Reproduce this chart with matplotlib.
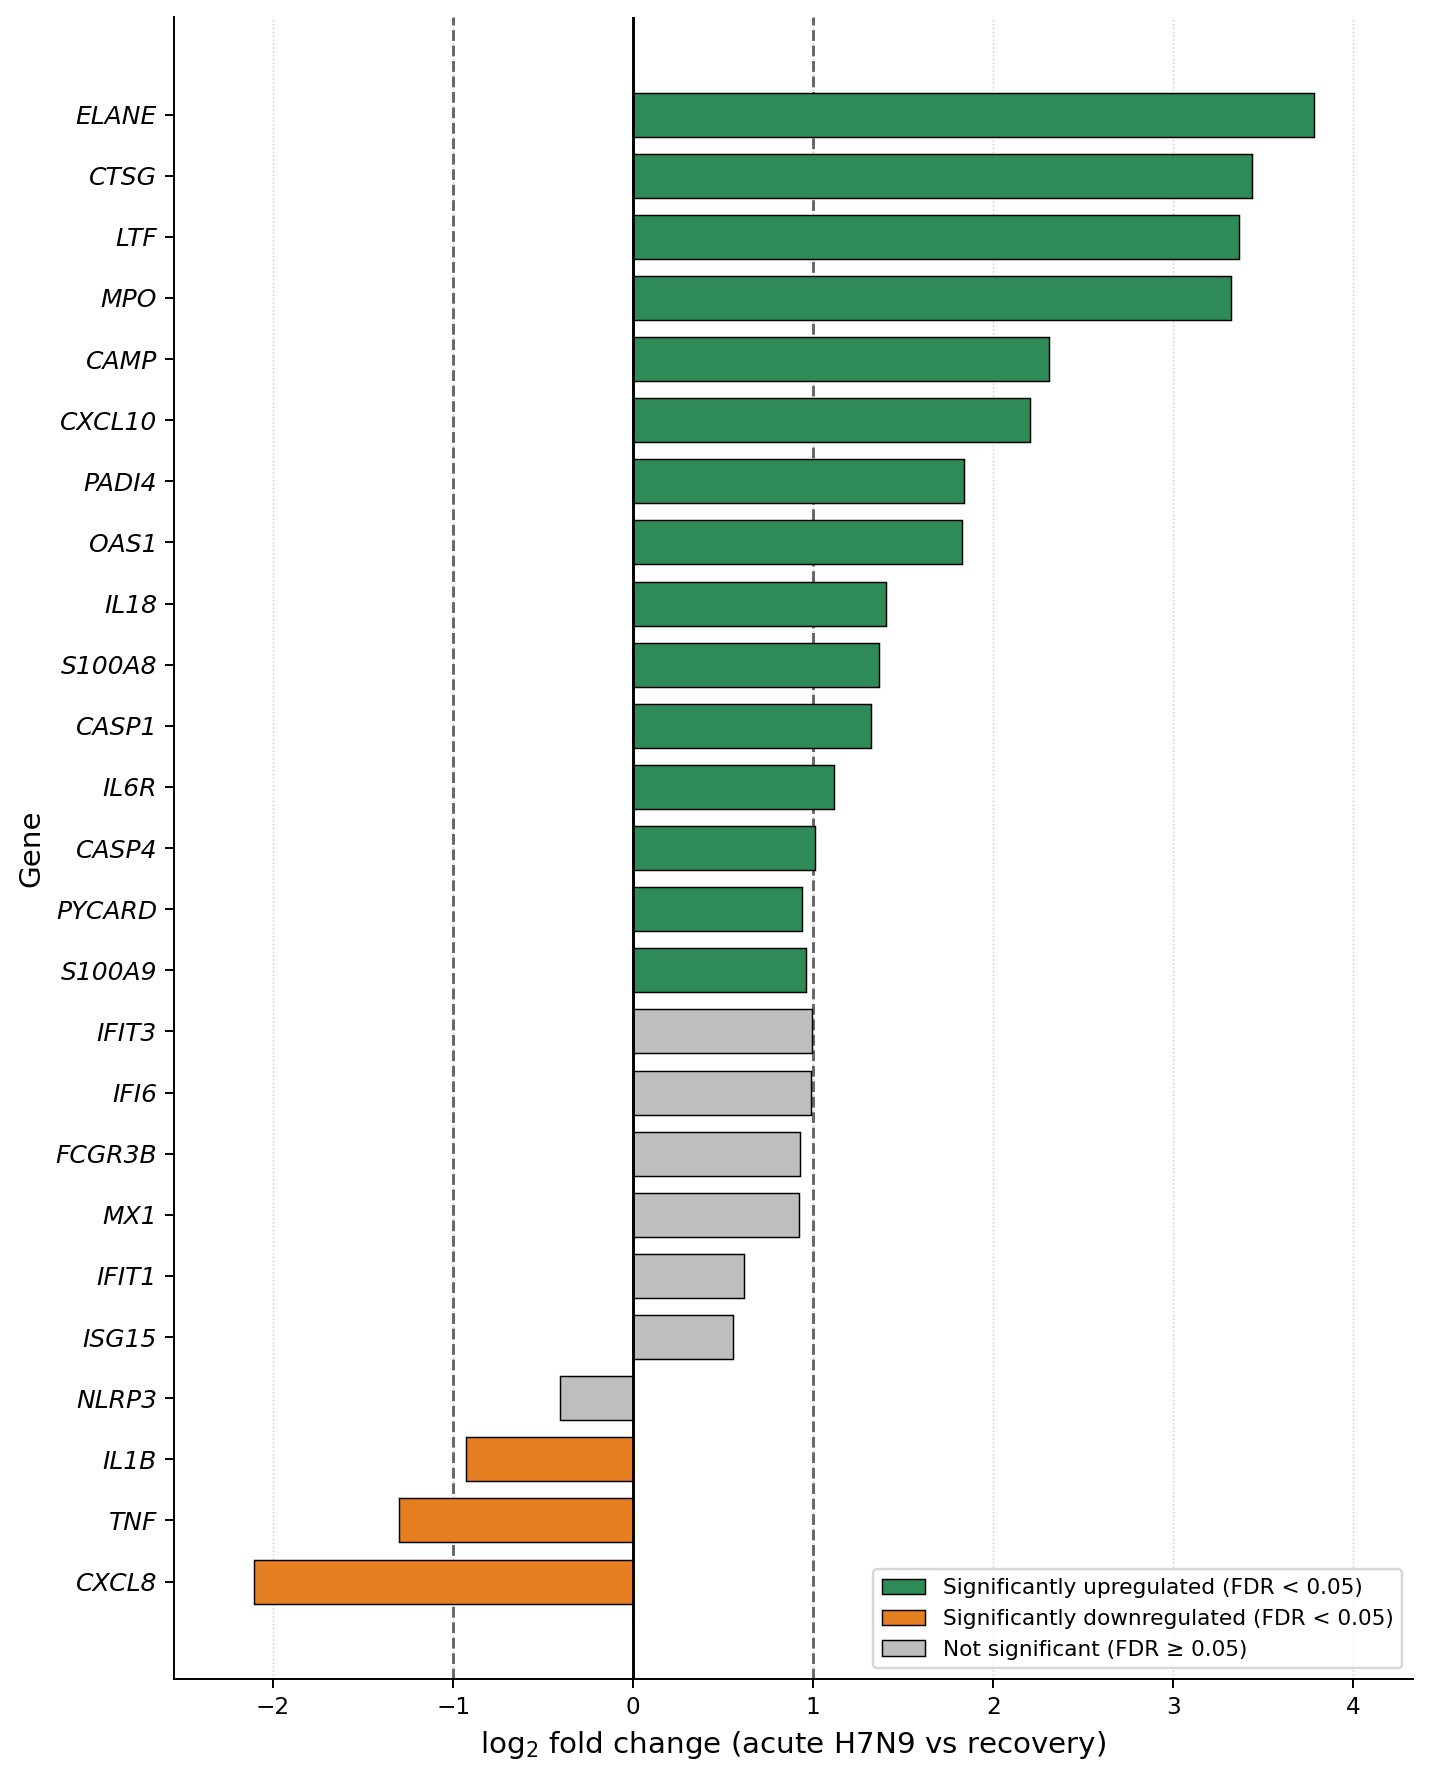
import matplotlib
matplotlib.use("Agg")
import matplotlib.pyplot as plt
from matplotlib.patches import Patch


genes = [
    "ELANE", "CTSG", "LTF", "MPO", "CAMP", "CXCL10", "PADI4", "OAS1",
    "IL18", "S100A8", "CASP1", "IL6R", "CASP4", "PYCARD", "S100A9",
    "IFIT3", "IFI6", "FCGR3B", "MX1", "IFIT1", "ISG15", "NLRP3",
    "IL1B", "TNF", "CXCL8"
]

log2fc = [
    3.78, 3.435, 3.367, 3.319, 2.308, 2.202, 1.839, 1.824,
    1.402, 1.367, 1.321, 1.113, 1.011, 0.939, 0.961,
    0.994, 0.989, 0.928, 0.922, 0.618, 0.556, -0.406,
    -0.926, -1.30, -2.106
]

# up / down / ns
status = (
    ["up"] * 15
    + ["ns"] * 7
    + ["down"] * 3
)

colors = {
    "up": "#2e8b57",
    "down": "#e67e22",
    "ns": "#bebebe"
}

legend_labels = {
    "up": "Significantly upregulated (FDR < 0.05)",
    "down": "Significantly downregulated (FDR < 0.05)",
    "ns": "Not significant (FDR \u2265 0.05)"
}

############################################################

fig = plt.figure(figsize=(1430 / 175, 1777 / 175), dpi=175)

ax = fig.add_axes([0.1217, 0.0551, 0.988 - 0.1217, 0.9904 - 0.0551])

y = list(range(len(genes)))

ax.barh(

    y,

    log2fc,

    height=0.72,

    color=[colors[s] for s in status],

    edgecolor="black",

    linewidth=0.6,

    zorder=3

)

ax.axvline(0, color="black", linewidth=1.2, zorder=4)

for xv in [-1, 1]:

    ax.axvline(

        xv,

        color="#666666",

        linestyle="--",

        linewidth=1.2,

        zorder=2

    )

ax.grid(

    axis="x",

    linestyle=":",

    color="#cccccc",

    linewidth=0.6,

    zorder=0

)

ax.set_yticks(y)

ax.set_yticklabels(genes, fontstyle="italic", fontsize=10.3)

ax.invert_yaxis()

ax.set_xlim(-2.55, 4.33)

ax.tick_params(axis="x", labelsize=9.5)

ax.set_xlabel("log$_2$ fold change (acute H7N9 vs recovery)", fontsize=12.1)

ax.set_ylabel("Gene", fontsize=12.1)

ax.spines["top"].set_visible(False)

ax.spines["right"].set_visible(False)

handles = [

    Patch(facecolor=colors[k], edgecolor="black", linewidth=0.6, label=legend_labels[k])

    for k in ["up", "down", "ns"]

]

ax.legend(handles=handles, loc="lower right", fontsize=8.9)

fig.savefig("out.png", dpi=175)
